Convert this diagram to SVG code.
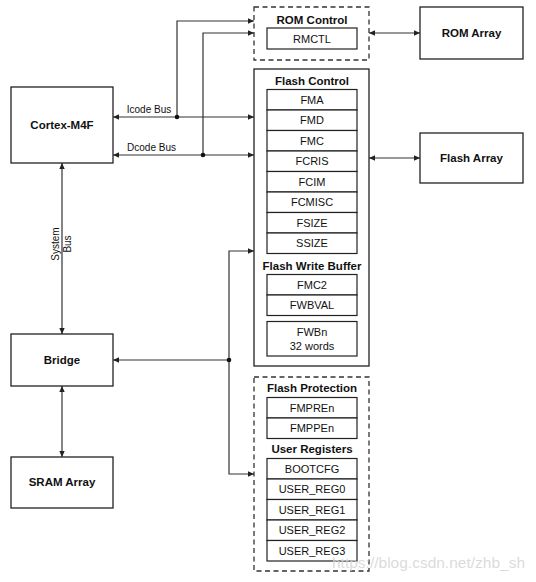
<svg xmlns="http://www.w3.org/2000/svg" width="536" height="582" viewBox="0 0 536 582">
<style>
.box{fill:#fff;stroke:#222;stroke-width:1.3}
.dash{fill:#fff;stroke:#333;stroke-width:1.3;stroke-dasharray:5,3.5}
.reg{fill:#fff;stroke:#222;stroke-width:1.2}
.ln{fill:none;stroke:#333;stroke-width:1.2}
.t{font-family:"Liberation Sans",Arial,sans-serif;fill:#111;text-anchor:middle}
.b{font-weight:bold;font-size:11.5px}
.r{font-size:11px}
.s{font-size:10px}
</style>
<defs>
<marker id="ah" viewBox="0 0 6 6" refX="6" refY="3" markerWidth="6" markerHeight="6" markerUnits="userSpaceOnUse" orient="auto-start-reverse">
<path d="M0,0.3 L6,3 L0,5.7 Z" fill="#222"/>
</marker>
</defs>
<rect width="536" height="582" fill="#fff"/>

<g id="connectors">
<line class="ln" x1="113" y1="117" x2="254" y2="117" marker-start="url(#ah)" marker-end="url(#ah)"/>
<path class="ln" d="M177,117 V21 H254" marker-end="url(#ah)"/>
<circle cx="177" cy="117" r="2.3" fill="#111"/>
<line class="ln" x1="113" y1="155" x2="254" y2="155" marker-start="url(#ah)" marker-end="url(#ah)"/>
<path class="ln" d="M203,155 V33 H254" marker-end="url(#ah)"/>
<circle cx="203" cy="155" r="2.3" fill="#111"/>
<line class="ln" x1="369" y1="33" x2="420" y2="33" marker-start="url(#ah)" marker-end="url(#ah)"/>
<line class="ln" x1="369" y1="158" x2="420" y2="158" marker-start="url(#ah)" marker-end="url(#ah)"/>
<line class="ln" x1="62" y1="163" x2="62" y2="334" marker-start="url(#ah)" marker-end="url(#ah)"/>
<line class="ln" x1="62" y1="386" x2="62" y2="457" marker-start="url(#ah)" marker-end="url(#ah)"/>
<line class="ln" x1="229" y1="360" x2="113" y2="360" marker-end="url(#ah)"/>
<path class="ln" d="M229,360 V251 H254" marker-end="url(#ah)"/>
<path class="ln" d="M229,360 V474 H254" marker-end="url(#ah)"/>
<circle cx="229" cy="360" r="2.3" fill="#111"/>
<text class="t s" x="149" y="113">Icode Bus</text>
<text class="t s" x="151.5" y="151">Dcode Bus</text>
<text class="t s" transform="translate(59,244) rotate(-90)">System</text>
<text class="t s" transform="translate(71,244) rotate(-90)">Bus</text>
</g>

<g id="cortex">
<rect class="box" x="11" y="87" width="102" height="76"/>
<text class="t b" x="62" y="129">Cortex-M4F</text>
</g>
<g id="bridge">
<rect class="box" x="11" y="334" width="102" height="52"/>
<text class="t b" x="62" y="364">Bridge</text>
</g>
<g id="sram">
<rect class="box" x="11" y="457" width="102" height="51"/>
<text class="t b" x="62" y="486">SRAM Array</text>
</g>
<g id="rom-array">
<rect class="box" x="420" y="7" width="103" height="52"/>
<text class="t b" x="471.5" y="37">ROM Array</text>
</g>
<g id="flash-array">
<rect class="box" x="420" y="133" width="103" height="50"/>
<text class="t b" x="471.5" y="162">Flash Array</text>
</g>

<g id="rom-control">
<rect class="dash" x="254" y="7" width="115" height="53"/>
<text class="t b" x="312" y="24">ROM Control</text>
<rect class="reg" x="267" y="28" width="90" height="21"/>
<text class="t r" x="312" y="42.5">RMCTL</text>
</g>

<g id="flash-control">
<rect class="box" x="254" y="69" width="115" height="297"/>
<text class="t b" x="312" y="85">Flash Control</text>
<rect class="reg" x="267" y="89.5" width="90" height="20.5"/>
<rect class="reg" x="267" y="110" width="90" height="20.5"/>
<rect class="reg" x="267" y="130.5" width="90" height="20.5"/>
<rect class="reg" x="267" y="151" width="90" height="20.5"/>
<rect class="reg" x="267" y="171.5" width="90" height="20.5"/>
<rect class="reg" x="267" y="192" width="90" height="20.5"/>
<rect class="reg" x="267" y="212.5" width="90" height="20.5"/>
<rect class="reg" x="267" y="233" width="90" height="20.5"/>
<text class="t r" x="312" y="103.5">FMA</text>
<text class="t r" x="312" y="124">FMD</text>
<text class="t r" x="312" y="144.5">FMC</text>
<text class="t r" x="312" y="165">FCRIS</text>
<text class="t r" x="312" y="185.5">FCIM</text>
<text class="t r" x="312" y="206">FCMISC</text>
<text class="t r" x="312" y="226.5">FSIZE</text>
<text class="t r" x="312" y="247">SSIZE</text>
<text class="t b" x="312" y="269.5">Flash Write Buffer</text>
<rect class="reg" x="267" y="274.5" width="90" height="20.5"/>
<rect class="reg" x="267" y="295" width="90" height="20.5"/>
<text class="t r" x="312" y="288.5">FMC2</text>
<text class="t r" x="312" y="309">FWBVAL</text>
<rect class="reg" x="267" y="321.5" width="90" height="34.5"/>
<text class="t r" x="312" y="336">FWBn</text>
<text class="t r" x="312" y="349.5">32 words</text>
</g>

<g id="flash-protection">
<rect class="dash" x="254" y="377" width="115" height="194"/>
<text class="t b" x="312" y="392">Flash Protection</text>
<rect class="reg" x="267" y="397.5" width="90" height="20.5"/>
<rect class="reg" x="267" y="418" width="90" height="20.5"/>
<text class="t r" x="312" y="411.5">FMPREn</text>
<text class="t r" x="312" y="432">FMPPEn</text>
<text class="t b" x="312" y="452.5">User Registers</text>
<rect class="reg" x="267" y="458.5" width="90" height="20.5"/>
<rect class="reg" x="267" y="479" width="90" height="20.5"/>
<rect class="reg" x="267" y="499.5" width="90" height="20.5"/>
<rect class="reg" x="267" y="520" width="90" height="20.5"/>
<rect class="reg" x="267" y="540.5" width="90" height="20.5"/>
<text class="t r" x="312" y="472.5">BOOTCFG</text>
<text class="t r" x="312" y="493">USER_REG0</text>
<text class="t r" x="312" y="513.5">USER_REG1</text>
<text class="t r" x="312" y="534">USER_REG2</text>
<text class="t r" x="312" y="554.5">USER_REG3</text>
</g>

<text x="332" y="568" font-family="Liberation Sans,Arial,sans-serif" font-size="15.5" fill="#d4d4d4" fill-opacity="0.85">https://blog.csdn.net/zhb_sh</text>
</svg>
